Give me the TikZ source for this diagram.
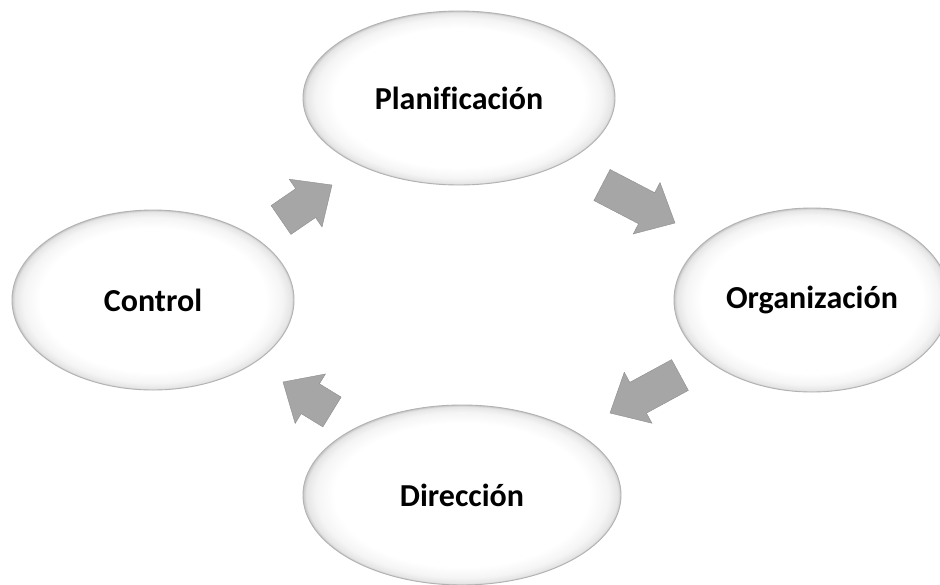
\documentclass[tikz,border=0pt]{standalone}
\usepackage{fontspec}
\setmainfont[Ligatures=NoCommon]{Carlito}
\usetikzlibrary{shapes.geometric,calc}
\pgfdeclareradialshading{rimshade}{\pgfpoint{0bp}{0bp}}{color(0bp)=(white); color(20bp)=(white); color(23bp)=(black!4); color(24.5bp)=(black!10); color(25bp)=(black!22); color(50bp)=(black!22)}
\definecolor{arrowgray}{RGB}{166,166,166}
\tikzset{
  stage/.style={ellipse, shade, shading=rimshade, draw=black!30, line width=0.9pt,
    font=\bfseries\fontsize{32}{38}\selectfont, inner sep=0pt},
  cyc/.style={fill=arrowgray, draw=arrowgray!85!black, line width=0.4pt}
}
% #1 tail midpoint, #2 tip
\newcommand\cyclearrow[2]{%
  \coordinate (hb) at ($(#2)!32pt!(#1)$);
  \fill[cyc] ($(#1)!17.5pt!90:(#2)$) -- ($(hb)!17.5pt!90:(#2)$) -- ($(hb)!29pt!90:(#2)$)
    -- (#2) -- ($(hb)!29pt!-90:(#2)$) -- ($(hb)!17.5pt!-90:(#2)$)
    -- ($(#1)!17.5pt!-90:(#2)$) -- cycle;
}
\begin{document}
\begin{tikzpicture}[x=1pt,y=-1pt]
\clip (0,0) rectangle (940,584);
\fill[white] (0,0) rectangle (940,584);
\node[stage, minimum width=312pt, minimum height=174pt] (plan) at (459,98) {Planificación};
\node[stage, minimum width=276pt, minimum height=184pt] (org) at (812,300) {Organización};
\node[stage, minimum width=318pt, minimum height=180pt] (dir) at (462,495) {Dirección};
\node[stage, minimum width=282pt, minimum height=180pt] (ctrl) at (153,300) {Control};
\coordinate (a1s) at (281,220); \coordinate (a1e) at (332,185);
\coordinate (a2s) at (602,185); \coordinate (a2e) at (675,223);
\coordinate (a3s) at (680,375); \coordinate (a3e) at (610,413);
\coordinate (a4s) at (332,412); \coordinate (a4e) at (283,382);
\cyclearrow{a1s}{a1e}
\cyclearrow{a2s}{a2e}
\cyclearrow{a3s}{a3e}
\cyclearrow{a4s}{a4e}
\end{tikzpicture}
\end{document}
